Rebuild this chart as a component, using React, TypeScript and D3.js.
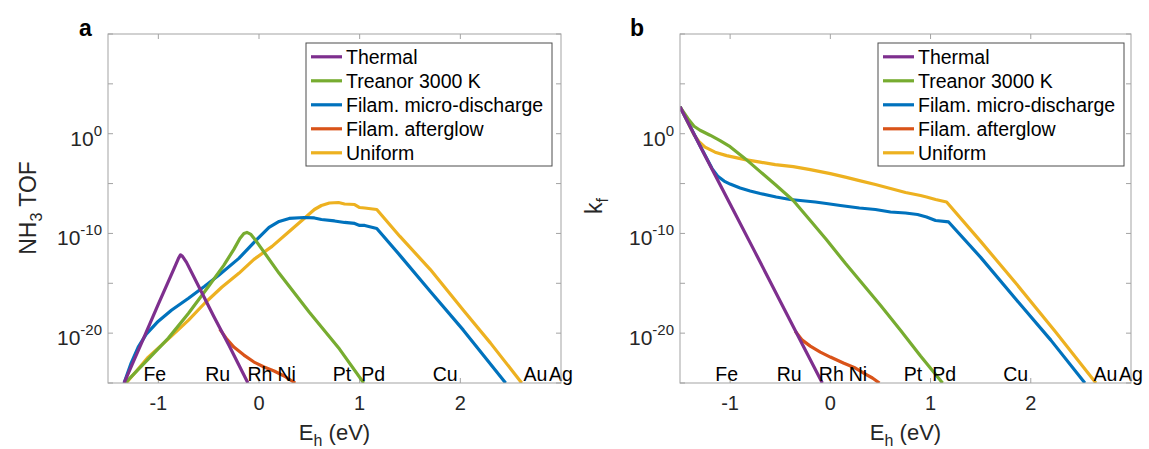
import React from 'react';
import * as d3 from 'd3';

// ---------- data ----------
const seriesNames = ['Thermal', 'Treanor 3000 K', 'Filam. micro-discharge', 'Filam. afterglow', 'Uniform'];
const seriesColors = ['#7E2F8E', '#77AC30', '#0072BD', '#D95319', '#EDB120'];

// Panel a: [E_b (eV), log10(NH3 TOF)]
const thermalA = [[-1.34, -25], [-1.25, -22.9], [-1.15, -20.6], [-1.0, -17.1], [-0.9, -14.8], [-0.83, -13.2], [-0.8, -12.5], [-0.78, -12.15], [-0.76, -12.3], [-0.72, -12.9], [-0.6, -15.3], [-0.45, -18.3], [-0.3, -21.2], [-0.2, -23.2], [-0.11, -25]];
const treanorA = [[-1.33, -25], [-1.1, -22.6], [-0.9, -20.5], [-0.7, -18.0], [-0.5, -15.3], [-0.35, -13.2], [-0.25, -11.6], [-0.19, -10.5], [-0.15, -10.0], [-0.12, -9.9], [-0.08, -10.1], [-0.04, -10.6], [0.2, -14.0], [0.5, -17.9], [0.8, -21.6], [1.04, -25]];
const microA = [[-1.34, -25], [-1.27, -23.0], [-1.2, -21.4], [-1.12, -20.1], [-1.0, -18.8], [-0.87, -17.7], [-0.7, -16.5], [-0.54, -15.3], [-0.4, -14.2], [-0.2, -12.5], [-0.04, -10.8], [0.1, -9.4], [0.2, -8.8], [0.3, -8.5], [0.45, -8.4], [0.55, -8.45], [0.62, -8.6], [0.75, -8.75], [0.85, -8.9], [0.95, -9.0], [1.0, -9.2], [1.05, -9.2], [1.17, -9.5], [1.4, -12.2], [1.7, -15.8], [2.03, -19.7], [2.45, -25]];
const afterglowA = [[-0.39, -19.6], [-0.32, -20.6], [-0.25, -21.4], [-0.15, -22.2], [-0.05, -22.9], [0.05, -23.4], [0.15, -23.8], [0.25, -24.3], [0.36, -25]];
const uniformA = [[-1.32, -25], [-1.2, -23.6], [-1.1, -22.4], [-0.87, -20.3], [-0.7, -18.7], [-0.54, -17.0], [-0.37, -15.4], [-0.2, -14.0], [-0.05, -12.6], [0.13, -11.3], [0.3, -9.8], [0.46, -8.4], [0.55, -7.6], [0.62, -7.2], [0.7, -6.95], [0.79, -6.9], [0.85, -7.05], [0.95, -7.1], [1.0, -7.4], [1.05, -7.45], [1.17, -7.6], [1.4, -10.3], [1.7, -13.6], [2.03, -17.7], [2.3, -21.0], [2.61, -25]];

// Panel b: [E_b (eV), log10(k_f)]
const thermalB = [[-1.5, 2.7], [-1.25, -2.2], [-1.0, -7.05], [-0.75, -11.9], [-0.5, -16.8], [-0.25, -21.7], [-0.08, -25]];
const treanorB = [[-1.5, 2.7], [-1.42, 1.5], [-1.36, 0.75], [-1.3, 0.35], [-1.2, -0.15], [-1.1, -0.7], [-1.0, -1.3], [-0.85, -2.5], [-0.7, -3.8], [-0.55, -5.1], [-0.37, -6.7], [-0.2, -8.7], [-0.04, -10.6], [0.15, -13.0], [0.3, -14.8], [0.5, -17.2], [0.7, -19.7], [0.9, -22.3], [1.12, -25]];
const microB = [[-1.5, 2.7], [-1.3, -1.2], [-1.18, -3.5], [-1.12, -4.3], [-1.06, -4.75], [-1.0, -5.05], [-0.9, -5.45], [-0.8, -5.75], [-0.7, -6.0], [-0.54, -6.35], [-0.4, -6.6], [-0.3, -6.7], [-0.15, -6.85], [-0.04, -7.0], [0.1, -7.2], [0.29, -7.45], [0.45, -7.6], [0.6, -7.85], [0.75, -7.95], [0.87, -8.1], [0.96, -8.35], [1.05, -8.7], [1.18, -8.85], [1.5, -12.4], [1.86, -16.7], [2.2, -20.7], [2.54, -25]];
const afterglowB = [[-0.35, -19.8], [-0.28, -20.7], [-0.2, -21.3], [-0.1, -21.9], [0.0, -22.4], [0.13, -23.0], [0.25, -23.5], [0.35, -24.1], [0.42, -24.5], [0.49, -25]];
const uniformB = [[-1.5, 2.7], [-1.42, 1.1], [-1.36, -0.1], [-1.31, -0.8], [-1.25, -1.35], [-1.15, -1.85], [-1.035, -2.2], [-0.85, -2.6], [-0.7, -2.85], [-0.55, -3.1], [-0.37, -3.3], [-0.2, -3.6], [0.0, -4.0], [0.15, -4.35], [0.29, -4.7], [0.45, -5.1], [0.6, -5.5], [0.75, -5.9], [0.9, -6.2], [0.96, -6.35], [1.05, -6.6], [1.16, -6.85], [1.5, -10.8], [1.86, -15.1], [2.25, -19.9], [2.65, -25]];

// element labels on bottom of each panel
const elementNames = ['Fe', 'Ru', 'Rh', 'Ni', 'Pt', 'Pd', 'Cu', 'Au', 'Ag'];
const elementEb = [-1.035, -0.41, 0.01, 0.275, 0.825, 1.135, 1.85, 2.745, 3.0];

const xDomain = [-1.5, 3];
const xTickValues = [-1, 0, 1, 2];
const yExpDomain = [10, -25];
const yTickExps = [10, 5, 0, -5, -10, -15, -20, -25];
const yLabelExps = [0, -10, -20];

const FONT = "'Liberation Sans', Arial, Helvetica, sans-serif";
const AXIS_COLOR = '#a3a3a3';
const TEXT_COLOR = '#262626';

type Pt = number[];

function Panel(props: {
  id: string; x0: number; x1: number; y0: number; y1: number;
  series: Pt[][]; letter: string; letterX: number; ylabel: React.ReactNode;
}) {
  const { id, x0, x1, y0, y1, series, letter, letterX, ylabel } = props;
  const x = d3.scaleLinear().domain(xDomain).range([x0, x1]);
  const y = d3.scaleLog().domain([Math.pow(10, yExpDomain[0]), Math.pow(10, yExpDomain[1])]).range([y0, y1]);
  const line = d3.line<Pt>().x(d => x(d[0])).y(d => y(Math.pow(10, d[1])));
  const tl = 5;
  const drawOrder = [4, 3, 2, 1, 0];
  const legX = x0 + 198;
  const legY = 43;
  const cx = (x0 + x1) / 2;
  return (
    <g>
      <defs>
        <clipPath id={`clip-${id}`}>
          <rect x={x0} y={y0} width={x1 - x0} height={y1 - y0} />
        </clipPath>
      </defs>
      {/* ticks */}
      {yTickExps.map(e => {
        const yy = y(Math.pow(10, e));
        return (
          <g key={`yt${e}`}>
            <line x1={x0} x2={x0 + tl} y1={yy} y2={yy} stroke={AXIS_COLOR} strokeWidth={1} />
            <line x1={x1} x2={x1 - tl} y1={yy} y2={yy} stroke={AXIS_COLOR} strokeWidth={1} />
          </g>
        );
      })}
      {xTickValues.map(v => (
        <g key={`xt${v}`}>
          <line x1={x(v)} x2={x(v)} y1={y1} y2={y1 - tl} stroke={AXIS_COLOR} strokeWidth={1} />
          <line x1={x(v)} x2={x(v)} y1={y0} y2={y0 + tl} stroke={AXIS_COLOR} strokeWidth={1} />
          <text x={x(v)} y={410} textAnchor="middle" fontSize={20} fill={TEXT_COLOR}>{String(v)}</text>
        </g>
      ))}
      {yLabelExps.map(e => {
        const yy = y(Math.pow(10, e));
        return (
          <text key={`yl${e}`} x={x0 - 6} y={yy + 12} textAnchor="end" fontSize={21} fill={TEXT_COLOR}>
            10<tspan fontSize={15} dy={-10}>{String(e)}</tspan>
          </text>
        );
      })}
      {/* lines */}
      <g clipPath={`url(#clip-${id})`}>
        {drawOrder.map(i => (
          <path key={`s${i}`} d={line(series[i]) || ''} fill="none" stroke={seriesColors[i]} strokeWidth={3.2} strokeLinejoin="round" strokeLinecap="butt" />
        ))}
      </g>
      {/* element labels */}
      {elementNames.map((n, i) => (
        <text key={n} x={x(elementEb[i])} y={381} textAnchor="middle" fontSize={19.5} fill="#000">{n}</text>
      ))}
      {/* box */}
      <rect x={x0} y={y0} width={x1 - x0} height={y1 - y0} fill="none" stroke={AXIS_COLOR} strokeWidth={1} />
      {/* legend */}
      <rect x={legX} y={legY} width={246} height={123} fill="#fff" stroke="#4d4d4d" strokeWidth={1} />
      {seriesNames.map((n, i) => {
        const cy = legY + 13.8 + i * 24;
        return (
          <g key={n}>
            <line x1={legX + 5} x2={legX + 36} y1={cy} y2={cy} stroke={seriesColors[i]} strokeWidth={3.2} />
            <text x={legX + 40} y={cy + 7} fontSize={19.5} fill="#000">{n}</text>
          </g>
        );
      })}
      {/* axis labels */}
      <text x={cx} y={440} textAnchor="middle" fontSize={22} fill={TEXT_COLOR}>
        E<tspan fontSize={16} dy={6}>h</tspan><tspan dy={-6}> (eV)</tspan>
      </text>
      {ylabel}
      <text x={letterX} y={36} fontSize={23} fontWeight="bold" fill="#000">{letter}</text>
    </g>
  );
}

export default function App() {
  const seriesA = [thermalA, treanorA, microA, afterglowA, uniformA];
  const seriesB = [thermalB, treanorB, microB, afterglowB, uniformB];
  return (
    <svg width={1149} height={449} style={{ position: 'absolute', left: 0, top: 0, background: '#fff' }} fontFamily={FONT}>
      <rect x={0} y={0} width={1149} height={449} fill="#fff" />
      <Panel id="a" x0={108} x1={561} y0={34} y1={383} series={seriesA} letter="a" letterX={79}
        ylabel={
          <text transform="translate(36,208) rotate(-90)" textAnchor="middle" fontSize={23} fill={TEXT_COLOR}>
            NH<tspan fontSize={16} dy={6}>3</tspan><tspan dy={-6}> TOF</tspan>
          </text>
        } />
      <Panel id="b" x0={680} x1={1131} y0={34} y1={383} series={seriesB} letter="b" letterX={630}
        ylabel={
          <text transform="translate(602,206) rotate(-90)" textAnchor="middle" fontSize={23} fill={TEXT_COLOR}>
            k<tspan fontSize={16} dy={6}>f</tspan>
          </text>
        } />
    </svg>
  );
}
